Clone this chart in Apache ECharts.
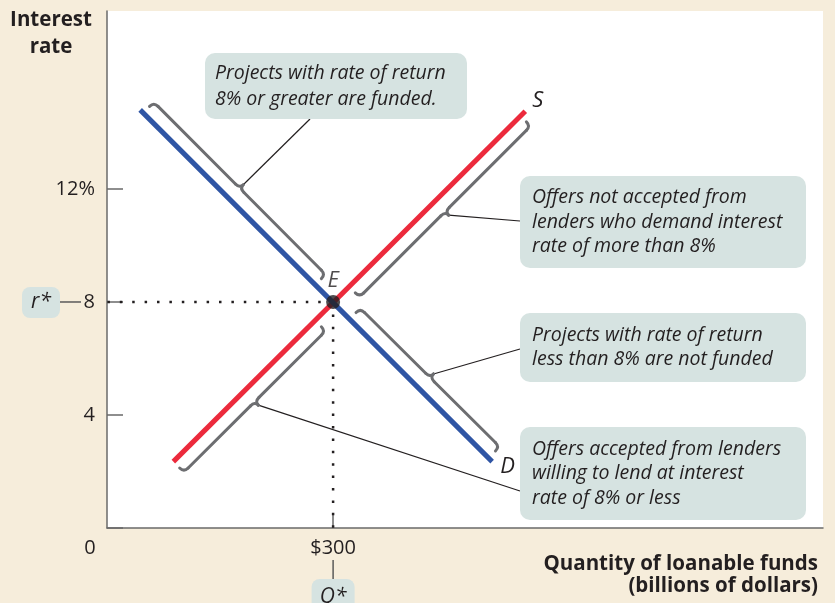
<!DOCTYPE html>
<html>
<head>
<meta charset="utf-8">
<script src="https://cdn.jsdelivr.net/npm/echarts@6/dist/echarts.min.js"></script>
<style>
  html, body { margin: 0; padding: 0; background: #f6eddb; }
  #chart { width: 835px; height: 603px; }
</style>
</head>
<body>
<div id="chart"></div>
<script>
// loanable funds market: supply S and demand D
const supplyX = [88, 555]
const supplyY = [2.35, 14.75]
const demandX = [44, 511]
const demandY = [14.8, 2.35]
const eqX = 300 // Q*
const eqY = 8 // r*
const yTicks = [4, 8, 12]
const yTickLabels = ['4', '8', '12%']
const xTicks = [0, 300]
const xTickLabels = ['0', '$300']
// brace spans along the curves [x1, y1, x2, y2], upper end first
const braces = [
  [48, 14.7, 276, 8.6],
  [548, 14.6, 321, 8.55],
  [322, 7.4, 507, 2.5],
  [276, 7.35, 88, 2.35]
]
const notes = [
  'Projects with rate of return\n8% or greater are funded.',
  'Offers not accepted from\nlenders who demand interest\nrate of more than 8%',
  'Projects with rate of return\nless than 8% are not funded',
  'Offers accepted from lenders\nwilling to lend at interest\nrate of 8% or less'
]

// layout of the note boxes (px) and where the leader lines meet them
const noteBoxes = [
  [205, 53, 262, 66],
  [520, 176, 286, 92],
  [520, 313, 286, 69],
  [520, 427, 286, 93]
]
const leaderEnds = [[310, 119], [520, 221], [520, 349], [520, 491]]

const ink = '#231f20'
const braceGray = '#6d6e71'
const boxFill = '#d6e3e1'
const font = 'Open Sans'

const chart = echarts.init(document.getElementById('chart'))

function renderBrace(params, api) {
  const p0 = api.coord([api.value(0), api.value(1)])
  const p1 = api.coord([api.value(2), api.value(3)])
  const dx = p1[0] - p0[0]
  const dy = p1[1] - p0[1]
  const len = Math.sqrt(dx * dx + dy * dy)
  const ux = dx / len
  const uy = dy / len
  const nx = uy
  const ny = -ux
  const P = (s, t) => [p0[0] + ux * s + nx * t, p0[1] + uy * s + ny * t]
  const a = 9; const b = 15; const c = 20; const r = 6; const m = len / 2
  const st = { stroke: braceGray, lineWidth: 3, fill: 'none', lineCap: 'round', lineJoin: 'round' }
  const quad = (s, cp, e) => ({
    type: 'bezierCurve',
    shape: { x1: s[0], y1: s[1], cpx1: cp[0], cpy1: cp[1], x2: e[0], y2: e[1] },
    style: st
  })
  const seg = (s, e) => ({
    type: 'line',
    shape: { x1: s[0], y1: s[1], x2: e[0], y2: e[1] },
    style: st
  })
  const tip = P(m, c)
  const end = leaderEnds[params.dataIndex]
  return {
    type: 'group',
    children: [
      {
        type: 'line',
        shape: { x1: tip[0], y1: tip[1], x2: end[0], y2: end[1] },
        style: { stroke: ink, lineWidth: 1.2 }
      },
      quad(P(0, a), P(0, b), P(r, b)),
      seg(P(r, b), P(m - r, b)),
      quad(P(m - r, b), P(m, b), P(m, c)),
      quad(P(m, c), P(m, b), P(m + r, b)),
      seg(P(m + r, b), P(len - r, b)),
      quad(P(len - r, b), P(len, b), P(len, a))
    ]
  }
}

chart.setOption({
  animation: false,
  textStyle: { fontFamily: font },
  grid: {
    left: 107,
    top: 11,
    right: 12,
    bottom: 75,
    show: true,
    backgroundColor: '#ffffff',
    borderWidth: 0
  },
  xAxis: {
    type: 'value',
    min: 0,
    max: 950,
    splitLine: { show: false },
    axisLine: { lineStyle: { color: '#6a6a6a', width: 1.5 } },
    axisTick: { inside: true, length: 15, customValues: [300], lineStyle: { color: '#6a6a6a', width: 1.5 } },
    axisLabel: {
      customValues: xTicks,
      margin: 10,
      fontSize: 20,
      color: ink,
      formatter: function(v) {
        const s = xTickLabels[xTicks.indexOf(v)]
        return v === 0 ? '{z|' + s + '}' : s
      },
      rich: { z: { fontSize: 20, color: ink, padding: [0, 34, 0, 0] } }
    }
  },
  yAxis: {
    type: 'value',
    min: 0,
    max: 18.3,
    splitLine: { show: false },
    axisLine: { lineStyle: { color: '#6a6a6a', width: 1.5 } },
    axisTick: { inside: true, length: 16, customValues: [0].concat(yTicks), lineStyle: { color: '#6a6a6a', width: 1.5 } },
    axisLabel: {
      customValues: yTicks,
      margin: 12,
      fontSize: 20,
      color: ink,
      formatter: function(v) {
        return yTickLabels[yTicks.indexOf(v)]
      }
    }
  },
  series: [
    {
      // dotted guide from E to the y axis
      type: 'line',
      data: [[eqX, eqY], [0, eqY]],
      showSymbol: false,
      lineStyle: { color: ink, width: 2.5, type: [2.5, 9.9] },
      z: 2
    },
    {
      // dotted guide from E to the x axis
      type: 'line',
      data: [[eqX, eqY], [eqX, 0]],
      showSymbol: false,
      lineStyle: { color: ink, width: 2.5, type: [2.5, 9.9] },
      z: 2
    },
    {
      type: 'custom',
      renderItem: renderBrace,
      data: braces,
      encode: { x: [0, 2], y: [1, 3] },
      z: 3
    },
    {
      name: 'S',
      type: 'line',
      data: supplyX.map((x, i) => [x, supplyY[i]]),
      showSymbol: false,
      lineStyle: { color: '#ec2a3c', width: 5, cap: 'butt' },
      endLabel: { show: true, formatter: 'S', offset: [-1, -11], fontSize: 22, fontStyle: 'italic', color: ink },
      z: 4
    },
    {
      name: 'D',
      type: 'line',
      data: demandX.map((x, i) => [x, demandY[i]]),
      showSymbol: false,
      lineStyle: { color: '#2f55a4', width: 5, cap: 'butt' },
      endLabel: { show: true, formatter: 'D', offset: [0, 5], fontSize: 22, fontStyle: 'italic', color: ink },
      z: 4
    },
    {
      name: 'E',
      type: 'scatter',
      data: [[eqX, eqY]],
      symbolSize: 14,
      itemStyle: { color: ink },
      label: { show: true, formatter: 'E', position: 'top', distance: 3, fontSize: 22, fontStyle: 'italic', color: ink },
      z: 5
    }
  ]
})

// annotations placed around the axes
const eqPx = chart.convertToPixel({ gridIndex: 0 }, [eqX, eqY])
const graphic = []

notes.forEach(function(txt, i) {
  const bx = noteBoxes[i]
  graphic.push({
    type: 'rect',
    shape: { x: bx[0], y: bx[1], width: bx[2], height: bx[3], r: 10 },
    style: { fill: boxFill },
    z: 10
  })
  graphic.push({
    type: 'text',
    x: bx[0] + (i === 0 ? 10 : 12),
    y: bx[1] + bx[3] / 2,
    style: {
      text: txt,
      font: 'italic 19.5px "' + font + '"',
      fill: ink,
      lineHeight: i === 0 ? 26 : 24.5,
      verticalAlign: 'middle'
    },
    z: 11
  })
})

// r* marker beside the 8 on the y axis
graphic.push({ type: 'rect', shape: { x: 22, y: eqPx[1] - 15, width: 38, height: 31, r: 8 }, style: { fill: boxFill }, z: 10 })
graphic.push({ type: 'text', x: 41, y: eqPx[1], style: { text: 'r*', font: 'italic 21px "' + font + '"', fill: ink, align: 'center', verticalAlign: 'middle' }, z: 11 })
graphic.push({ type: 'line', shape: { x1: 60, y1: eqPx[1], x2: 81, y2: eqPx[1] }, style: { stroke: '#5a5a5a', lineWidth: 1.5 }, z: 10 })

// Q* marker under $300
graphic.push({ type: 'line', shape: { x1: eqPx[0], y1: 560, x2: eqPx[0], y2: 579 }, style: { stroke: '#5a5a5a', lineWidth: 1.5 }, z: 10 })
graphic.push({ type: 'rect', shape: { x: eqPx[0] - 21.5, y: 579, width: 43, height: 40, r: 8 }, style: { fill: boxFill }, z: 10 })
graphic.push({ type: 'text', x: eqPx[0], y: 597, style: { text: 'Q*', font: 'italic 21px "' + font + '"', fill: ink, align: 'center', verticalAlign: 'middle' }, z: 11 })

// axis titles
graphic.push({
  type: 'text',
  x: 51,
  y: 7,
  style: { text: 'Interest\nrate', font: 'bold 20.5px "' + font + '"', fill: ink, align: 'center', lineHeight: 27 },
  z: 11
})
graphic.push({
  type: 'text',
  x: 818,
  y: 553,
  style: { text: 'Quantity of loanable funds\n(billions of dollars)', font: 'bold 20.5px "' + font + '"', fill: ink, align: 'right', lineHeight: 22 },
  z: 11
})

chart.setOption({ graphic: graphic })
</script>
</body>
</html>
